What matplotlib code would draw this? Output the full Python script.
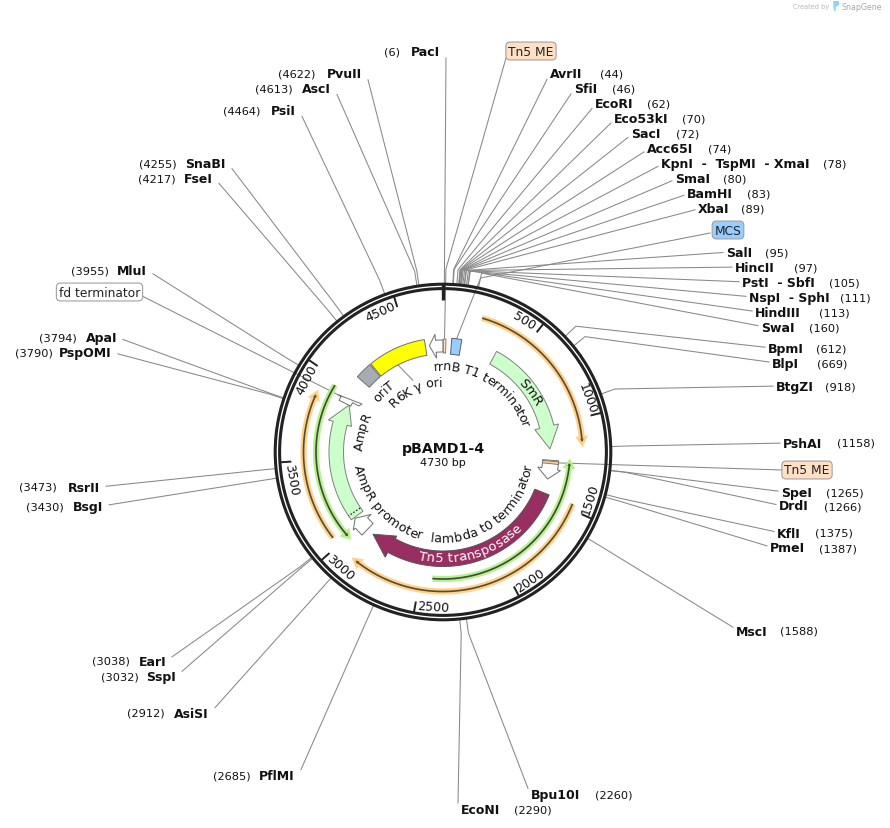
#coding: utf-8
import numpy as np
import matplotlib
matplotlib.use('Agg')
import matplotlib.pyplot as plt
from matplotlib.font_manager import FontProperties
from matplotlib.patches import Polygon, Circle

# plasmid
plasmid_name='pBAMD1-4'
plasmid_len=4730
tick_pos=[500,1000,1500,2000,2500,3000,3500,4000,4500]

# enzyme sites, right hand side
r_names=['AvrII','SfiI','EcoRI','Eco53kI','SacI','Acc65I','KpnI  -  TspMI  - XmaI','SmaI','BamHI','XbaI',
	'SalI','HincII','PstI  - SbfI','NspI  - SphI','HindIII','SwaI','BpmI','BlpI','BtgZI','PshAI',
	'SpeI','DrdI','KflI','PmeI','MscI','Bpu10I','EcoNI']
r_pos=[44,46,62,70,72,74,78,80,83,89,95,97,105,111,113,160,612,669,918,1158,1265,1266,1375,1387,1588,2260,2290]
r_x=[550,574,595,614,631,647,661,675,687,698,726,735,742,749,755,761,768,772,776,783,781,779,777,770,736,531,461]
r_y=[74,89,104,119,134,149,164,179,194,209,253,268,283,298,313,328,349,364,387,444,493,507,534,549,632,796,811]
r_numx=[600,612,647,682,676,708,823,723,747,741,765,794,829,840,819,809,816,817,825,837,826,824,815,819,780,595,514]

# enzyme sites, left hand side
l_names=['PflMI','AsiSI','SspI','EarI','BsgI','RsrII','PspOMI','ApaI','MluI','FseI','SnaBI','PsiI','AscI','PvuII','PacI']
l_pos=[2685,2912,3032,3038,3430,3473,3790,3794,3955,4217,4255,4464,4613,4622,6]
l_x=[295,209,176,166,103,100,112,117,147,213,226,296,331,362,440]
l_y=[777,714,677,662,507,488,353,338,271,179,164,111,89,74,52]
l_numx=[213,127,101,92,26,19,15,39,71,138,139,223,255,278,384]

# features (start, end in bp, clockwise order)
smr=[368,1161]
tn5_transposase=[1472,2896]
ampr=[3068,3897]
ampr_sig=3100
ampr_promoter=[2947,3061]
rrnb_t1=[4634,4730]
lambda_t0=[1240,1373]
fd_term=[3895,3950]
tn5_me_stripes=[[2,20],[1246,1264]]
mcs=[58,125]
r6k_ori=[4214,4606]
orit=[4090,4206]
orange_primers=[[214,1143],[1469,2889],[3048,3883]]
green_primers=[[2428,1234],[3965,2987]]

cx=443.
cy=453.
DPI=100


def pol(bp,r):
	th=2*np.pi*np.asarray(bp,dtype=float)/plasmid_len
	return cx+r*np.sin(th),cy-r*np.cos(th)

def deg2bp(d):
	return d/360.*plasmid_len

def arc(b0,b1,r,n=80):
	bs=np.linspace(b0,b1,n)
	x,y=pol(bs,r)
	return np.column_stack([x,y])

def arrow_shape(ax,b0,b1,head_bp,rin,rout,hin,hout,tip,fc,ec,lw=0.7,z=5):
	# b0 is the tail, b1 the tip. works in both directions
	sgn=1 if b1>b0 else -1
	base=b1-sgn*head_bp
	pts=list(arc(b0,base,rout))
	pts.append(pol(base,hout))
	pts.append(pol(b1,tip))
	pts.append(pol(base,hin))
	pts+=list(arc(base,b0,rin))
	ax.add_patch(Polygon(pts,closed=True,fc=fc,ec=ec,lw=lw,zorder=z,joinstyle='miter'))

def box_shape(ax,b0,b1,rin,rout,fc,ec,lw=0.7,z=5):
	pts=list(arc(b0,b1,rout))+list(arc(b1,b0,rin))
	ax.add_patch(Polygon(pts,closed=True,fc=fc,ec=ec,lw=lw,zorder=z))

def primer(ax,b0,b1,r,halo,line,headcol):
	sgn=1 if b1>b0 else -1
	head=deg2bp(3.0)
	a=arc(b0,b1-sgn*head*0.5,r)
	ax.plot(a[:,0],a[:,1],color=halo,lw=4.4,solid_capstyle='butt',zorder=3)
	base=b1-sgn*head
	tri=[pol(base,r+4.2),pol(b1,r),pol(base,r-4.2)]
	ax.add_patch(Polygon(tri,closed=True,fc=headcol,ec=halo,lw=1.8,zorder=3.5,joinstyle='miter'))
	ax.plot(a[:,0],a[:,1],color=line,lw=1.2,solid_capstyle='butt',zorder=4)

def text_rot(bp):
	d=(bp/plasmid_len*360.)%360
	if d<=90 or d>=270:
		return -d
	return 180-d

def arc_text(ax,renderer,s,center_deg,r,size,clockwise=True,color='#111111',z=7):
	# one glyph at a time, the labels bend around the circle
	fp=FontProperties(family='DejaVu Sans',size=size)
	def w(t):
		return renderer.get_text_width_height_descent(t,fp,False)[0]
	total=w(s)
	for i,ch in enumerate(s):
		if ch==' ':
			continue
		mid=w(s[:i+1])-w(ch)/2.-total/2.
		d=mid/r*180./np.pi
		if clockwise:
			a=center_deg+d
			rot=-a
		else:
			a=center_deg-d
			rot=180-a
		x,y=pol(deg2bp(a),r)
		ax.text(x,y,ch,fontproperties=fp,color=color,rotation=rot,rotation_mode='anchor',
			ha='center',va='center',zorder=z)

def leader(ax,bp,lx,ly,side,col='#888888'):
	x0,y0=pol(bp,168)
	xk,yk=pol(bp,183)
	ex=lx-3 if side>0 else lx+6
	dx=xk-ex
	dy=yk-ly
	ey=ly+7*dy/np.hypot(dx,dy)
	ax.plot([x0,xk,ex],[y0,yk,ey],color=col,lw=0.75,zorder=1)

def box_label(ax,x0,x1,y,s,fc):
	ax.text((x0+x1)/2.,y,s,fontsize=8.8,ha='center',va='center',color='#222222',zorder=8,
		bbox=dict(boxstyle='round,pad=0.2,rounding_size=0.35',fc=fc,ec='#a0a0a0',lw=0.8))

def draw_sites(ax):
	for n,p,x,y,nx in zip(r_names,r_pos,r_x,r_y,r_numx):
		leader(ax,p,x,y,1)
		ax.text(x,y,n,fontsize=9,fontweight='bold',ha='left',va='center',color='#111111',zorder=8)
		ax.text(nx,y,'(%d)'%p,fontsize=8.2,ha='left',va='center',color='#111111',zorder=8)
	for n,p,x,y,nx in zip(l_names,l_pos,l_x,l_y,l_numx):
		leader(ax,p,x,y,-1)
		ax.text(x,y,n,fontsize=9,fontweight='bold',ha='right',va='center',color='#111111',zorder=8)
		ax.text(nx,y,'(%d)'%p,fontsize=8.2,ha='left',va='center',color='#111111',zorder=8)

def draw_feature_leaders(ax):
	# Tn5 ME top
	x,y=pol(10,114)
	xk,yk=pol(12,183)
	ax.plot([x,xk,506],[y,yk,59],color='#888888',lw=0.75,zorder=1)
	# MCS
	x,y=pol(90,114)
	xk,yk=pol(160,178)
	ax.plot([x,xk,710],[y,yk,234],color='#888888',lw=0.75,zorder=1)
	# Tn5 ME right
	x,y=pol(1255,112)
	ax.plot([x,782],[y,471],color='#888888',lw=0.75,zorder=1)
	# fd terminator
	x,y=pol(3925,112)
	ax.plot([x,142],[y,297],color='#888888',lw=0.75,zorder=1)
	# R6K gamma ori
	x,y=pol(4370,98)
	x2,y2=pol(4430,78)
	ax.plot([x,x2],[y,y2],color='#888888',lw=0.75,zorder=1)

def draw_ring(ax):
	for r in [167.8,163.4]:
		ax.add_patch(Circle((cx,cy),r,fc='none',ec='#222222',lw=2.2,zorder=2))
	x0,y0=pol(0,168)
	x1,y1=pol(0,152)
	ax.plot([x0,x1],[y0,y1],color='#222222',lw=2.4,solid_capstyle='butt',zorder=2.5)
	for t in tick_pos:
		x0,y0=pol(t,163)
		x1,y1=pol(t,152)
		ax.plot([x0,x1],[y0,y1],color='#222222',lw=1.4,solid_capstyle='butt',zorder=2.5)
		b=t-deg2bp(6.5)
		x,y=pol(b,154.5)
		ax.text(x,y,str(t),fontsize=9,rotation=text_rot(b),rotation_mode='anchor',
			ha='center',va='center',color='#111111',zorder=7)

def draw_features(ax):
	for a,b in orange_primers:
		primer(ax,a,b,139.5,'#FFD08A','#5c4a2c','#B07A20')
	for a,b in green_primers:
		primer(ax,a,b,127,'#B8F090','#3c4a30','#4a7a30')
	gr='#CCFFCC'
	arrow_shape(ax,smr[0],smr[1],deg2bp(12),99.5,114,94.5,119,107,gr,'#808080')
	arrow_shape(ax,tn5_transposase[0],tn5_transposase[1],deg2bp(11.6),99,114.5,96,120,108,'#982E62','#555555')
	arrow_shape(ax,ampr[0],ampr[1],deg2bp(11),99.5,114,95,119,105,gr,'#808080')
	x0,y0=pol(ampr_sig,100)
	x1,y1=pol(ampr_sig,114)
	ax.plot([x0,x1],[y0,y1],color='#111111',lw=0.8,ls=(0,(1.5,1.5)),zorder=6)
	w='#FFFFFF'
	arrow_shape(ax,ampr_promoter[0],ampr_promoter[1],deg2bp(4),100,116,95,119,110,w,'#707070')
	arrow_shape(ax,rrnb_t1[1],rrnb_t1[0],deg2bp(3.4),100,112,94,118,107,w,'#707070')
	arrow_shape(ax,lambda_t0[0],lambda_t0[1],deg2bp(5.5),100,116,96,119,108,w,'#707070')
	arrow_shape(ax,fd_term[0],fd_term[1],deg2bp(2),103,116,96,119,94,w,'#707070')
	box_shape(ax,tn5_me_stripes[0][0],tn5_me_stripes[0][1],99,113,'#FFDDB8','#707070',lw=0.6,z=6)
	box_shape(ax,tn5_me_stripes[1][0],tn5_me_stripes[1][1],100,116,'#FFC890','#707070',lw=0.6,z=6)
	box_shape(ax,mcs[0],mcs[1],98,114,'#99CCFF','#606060')
	box_shape(ax,r6k_ori[0],r6k_ori[1],98,114,'#FFFF00','#707070')
	box_shape(ax,orit[0],orit[1],98,114,'#A6ACB3','#707070')

def draw_feature_text(ax,renderer):
	arc_text(ax,renderer,'rrnB T1 terminator',33,86,9.2)
	arc_text(ax,renderer,'R6K \u03b3 ori',336,70,9.2)
	arc_text(ax,renderer,'oriT',316,85,9.2)
	arc_text(ax,renderer,'AmpR',284.7,84,9.2)
	arc_text(ax,renderer,'SmR',55.3,106,9.5)
	arc_text(ax,renderer,'AmpR promoter',228,86,9.2,clockwise=False)
	arc_text(ax,renderer,'lambda t0 terminator',143,86,9.2,clockwise=False)
	arc_text(ax,renderer,'Tn5 transposase',163.5,106,9.5,clockwise=False,color='#FFFFFF')

def draw_logo(ax):
	ax.text(793,7,'Created by',fontsize=4.7,color='#b8b8b8',ha='left',va='center')
	ax.add_patch(Polygon([(833,2),(839,2),(839,6),(836,8),(835.5,12),(834,12)],closed=True,fc='#8FD5EE',ec='none'))
	ax.text(842,7,'SnapGene',fontsize=5.7,color='#a8a8a8',ha='left',va='center')


if __name__ == '__main__':
	fig=plt.figure(figsize=(890/DPI,829/DPI),dpi=DPI)
	ax=fig.add_axes([0,0,1,1])
	ax.set_xlim(0,890)
	ax.set_ylim(829,0)
	ax.axis('off')
	renderer=fig.canvas.get_renderer()

	draw_sites(ax)
	draw_feature_leaders(ax)
	box_label(ax,505,557,52,'Tn5 ME','#FFE0C4')
	box_label(ax,711,745,231,'MCS','#99CCFF')
	box_label(ax,781,833,471,'Tn5 ME','#FFE0C4')
	box_label(ax,57,142,293,'fd terminator','#FFFFFF')
	draw_ring(ax)
	draw_features(ax)
	draw_feature_text(ax,renderer)
	ax.text(cx,449,plasmid_name,fontsize=10.2,fontweight='bold',ha='center',va='center',color='#111111')
	ax.text(cx,463,'%d bp'%plasmid_len,fontsize=8,ha='center',va='center',color='#111111')
	draw_logo(ax)

	fig.savefig('out.png',dpi=DPI,facecolor='white')
	plt.close(fig)
